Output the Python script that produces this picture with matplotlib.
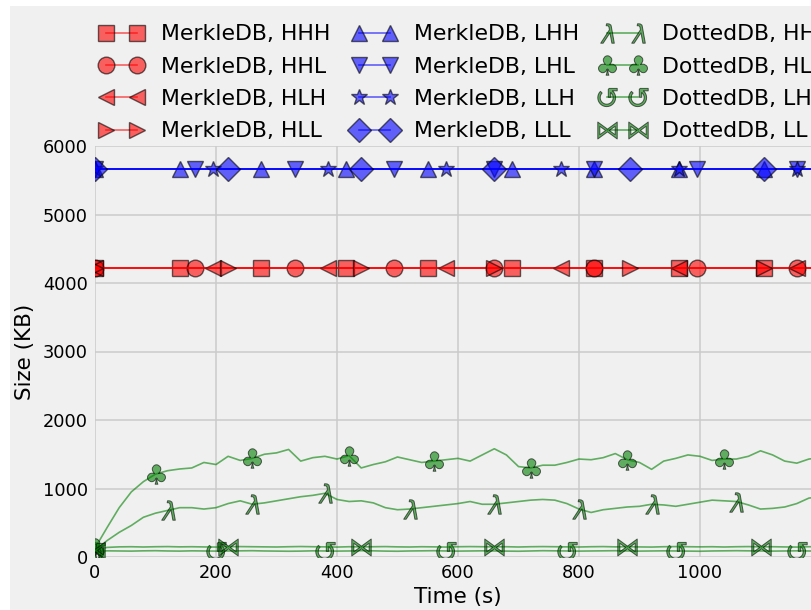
import numpy as np
import matplotlib.pyplot as plt
from matplotlib.patches import Rectangle

# MerkleDB runs: flat sizes (KB)
merkle_labels = ['MerkleDB, HHH', 'MerkleDB, HHL', 'MerkleDB, HLH', 'MerkleDB, HLL',
                 'MerkleDB, LHH', 'MerkleDB, LHL', 'MerkleDB, LLH', 'MerkleDB, LLL']
merkle_sizes = [4220, 4220, 4220, 4220, 5660, 5660, 5660, 5660]
time_merkle = np.arange(0, 1201, 5)

# DottedDB runs, sampled every 20 s
time_dotted = np.arange(0, 1201, 20)
dotted_labels = ['DottedDB, HH', 'DottedDB, HL', 'DottedDB, LH', 'DottedDB, LL']
dotted_hh = [80, 240, 360, 460, 580, 640, 680, 720, 720, 700,
             720, 780, 820, 770, 790, 820, 850, 880, 900, 930,
             840, 810, 820, 790, 720, 690, 700, 720, 740, 760,
             780, 810, 770, 770, 790, 810, 830, 840, 830, 780,
             700, 650, 690, 710, 730, 740, 770, 760, 740, 770,
             800, 830, 820, 810, 760, 700, 710, 730, 780, 860,
             880]
dotted_hl = [130, 430, 720, 950, 1100, 1210, 1260, 1285, 1300, 1380,
             1350, 1470, 1410, 1440, 1500, 1520, 1570, 1400, 1450, 1470,
             1430, 1480, 1300, 1350, 1390, 1460, 1420, 1380, 1400, 1420,
             1440, 1400, 1490, 1580, 1490, 1320, 1300, 1340, 1340, 1380,
             1430, 1420, 1450, 1510, 1420, 1380, 1280, 1400, 1440, 1490,
             1470, 1410, 1430, 1430, 1470, 1550, 1490, 1400, 1370, 1430,
             1450]
dotted_lh = [80, 90, 88, 86, 90, 92, 88, 86, 90, 88,
             86, 88, 90, 92, 88, 86, 84, 86, 90, 88,
             86, 88, 92, 90, 86, 84, 88, 90, 92, 88,
             86, 88, 90, 88, 86, 84, 88, 92, 90, 88,
             86, 88, 90, 92, 88, 86, 88, 90, 88, 86,
             84, 88, 90, 92, 90, 88, 86, 88, 90, 88,
             86]
dotted_ll = [100, 140, 148, 150, 146, 150, 152, 148, 150, 147,
             145, 150, 152, 150, 148, 146, 150, 153, 150, 148,
             145, 150, 147, 150, 152, 148, 146, 150, 148, 145,
             150, 152, 150, 148, 150, 146, 150, 152, 150, 148,
             146, 150, 152, 148, 150, 147, 145, 150, 152, 150,
             148, 150, 146, 150, 152, 148, 150, 147, 145, 150,
             148]

merkle_markers = ['s', 'o', '<', '>', '^', 'v', '*', 'D']
merkle_colors = ['r'] * 4 + ['b'] * 4
dotted_markers = [r'$\lambda$', r'$\clubsuit$', r'$\circlearrowleft$', r'$\bowtie$']
mark_every = [0.10, 0.12, 0.14, 0.16]

fig = plt.figure(figsize=(8.12, 6.10), dpi=100, facecolor='white')
fig.add_artist(Rectangle((10 / 812, 0), 1, 1 - 6 / 610, transform=fig.transFigure,
                         facecolor='#f0f0f0', edgecolor='none', zorder=-5))
ax = fig.add_axes([95 / 812, 53 / 610, 726 / 812, 411 / 610])
ax.set_facecolor('#f0f0f0')
for s in ax.spines.values():
    s.set_visible(False)
ax.grid(True, color='#cbcbcb', linewidth=1.1)
ax.set_axisbelow(True)

style = dict(alpha=0.6, linewidth=1.2, markeredgecolor='k')

for i in range(8):
    ax.plot(time_merkle, np.full(len(time_merkle), merkle_sizes[i]),
            color=merkle_colors[i], marker=merkle_markers[i], markersize=12,
            markeredgewidth=1, markevery=mark_every[i % 4],
            label=merkle_labels[i], **style)

dotted_series = [dotted_hh, dotted_hl, dotted_lh, dotted_ll]
for i in range(4):
    ax.plot(time_dotted, dotted_series[i], color='g', marker=dotted_markers[i],
            markersize=14, markeredgewidth=0.7, markevery=mark_every[i],
            label=dotted_labels[i], **style)

ax.set_xlim(0, 1200)
ax.set_ylim(0, 6000)
ax.set_xticks([0, 200, 400, 600, 800, 1000])
ax.set_yticks([0, 1000, 2000, 3000, 4000, 5000, 6000])
ax.tick_params(length=0, labelsize=12.8, pad=5)
ax.set_xlabel('Time (s)', fontsize=15.5, labelpad=4)
ax.set_ylabel('Size (KB)', fontsize=15.5, labelpad=6)

ax.legend(loc='lower center', bbox_to_anchor=(0.5, 0.99), ncol=3, frameon=False,
          numpoints=2, fontsize=15.8, columnspacing=1.0, labelspacing=0.56,
          borderaxespad=0)

fig.savefig('out.png', dpi=100)
